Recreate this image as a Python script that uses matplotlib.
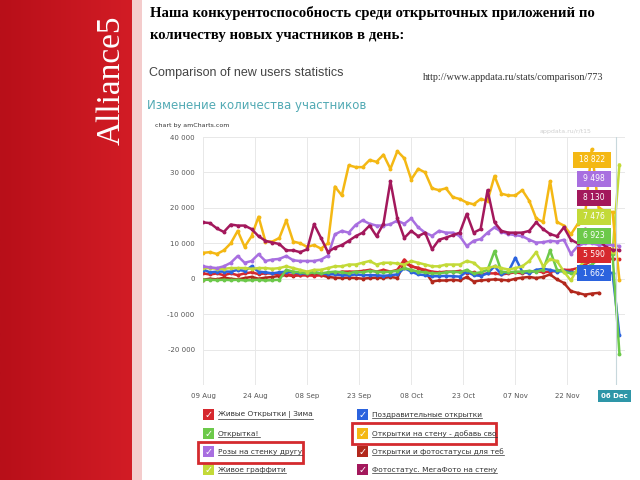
import numpy as np
import matplotlib.pyplot as plt
from matplotlib.colors import LinearSegmentedColormap
from matplotlib.patches import Rectangle
from matplotlib.lines import Line2D

# days since 09 Aug, one reading every second day; values in thousands of users
days = list(range(0, 121, 2))

orange = [7.3, 7.5, 7.0, 8.0, 10.0, 13.5, 9.0, 12.0, 17.5, 10.5, 10.5, 11.5, 16.5, 10.5, 10.0, 9.0,
          9.5, 8.5, 10.0, 26.0, 23.5, 32.0, 31.5, 31.5, 33.5, 33.0, 35.0, 31.0, 36.0, 34.0, 28.0, 31.0,
          30.0, 25.5, 25.0, 25.5, 23.0, 22.5, 21.5, 21.0, 22.5, 22.0, 29.0, 24.0, 23.5, 23.5, 25.0, 22.0,
          17.0, 16.0, 27.5, 16.0, 15.0, 12.5, 15.5, 17.0, 36.5, 20.0, 19.0, 18.822, -0.5]
magenta = [15.9, 15.7, 14.2, 13.2, 15.3, 15.0, 15.0, 14.0, 12.0, 10.7, 10.2, 9.8, 8.0, 8.0, 7.5, 8.3,
           15.4, 11.5, 7.5, 8.8, 9.5, 10.7, 12.0, 13.0, 15.0, 12.0, 15.5, 27.5, 17.0, 11.5, 13.5, 12.0,
           13.0, 8.3, 11.0, 11.6, 12.3, 13.0, 18.3, 13.0, 14.0, 25.0, 15.9, 13.5, 13.0, 13.0, 13.0, 13.5,
           15.9, 14.0, 12.6, 12.0, 14.5, 11.0, 10.0, 14.0, 13.0, 11.0, 9.0, 8.13, 8.1]
purple = [3.5, 3.2, 3.0, 3.5, 4.5, 6.4, 4.5, 5.0, 6.9, 5.0, 5.4, 5.6, 6.4, 5.2, 5.0, 5.0,
          5.0, 5.4, 6.5, 12.5, 13.5, 13.0, 15.2, 16.5, 15.5, 15.0, 15.0, 15.4, 16.4, 15.5, 17.0, 14.5,
          13.0, 12.1, 13.5, 13.0, 13.0, 12.0, 9.2, 10.7, 11.2, 13.0, 14.5, 13.2, 12.6, 12.3, 12.0, 11.0,
          10.2, 10.3, 10.7, 10.5, 11.0, 7.0, 9.2, 10.0, 10.0, 9.5, 9.5, 9.498, 9.2]
lime = [3.0, 3.0, 2.8, 2.8, 3.0, 3.0, 3.0, 2.8, 3.0, 3.0, 2.8, 3.0, 3.5, 3.0, 2.5, 2.0,
        2.5, 2.5, 3.0, 3.5, 3.5, 4.0, 4.0, 4.5, 5.0, 4.0, 4.5, 4.5, 4.3, 4.0, 5.0, 4.5,
        4.0, 3.5, 3.5, 4.0, 4.0, 4.0, 5.0, 4.5, 2.8, 3.0, 3.5, 3.0, 2.6, 3.0, 3.5, 5.0,
        7.5, 3.5, 5.5, 5.0, 2.0, -0.5, 3.0, 5.0, 6.0, 7.0, 7.5, 7.476, 32.2]
green = [-0.3, -0.3, -0.4, -0.3, -0.4, -0.3, -0.5, -0.4, -0.3, -0.5, -0.4, -0.3, 2.5, 2.0, 1.8, 1.5,
         1.8, 1.5, 1.8, 2.0, 1.8, 1.5, 2.0, 1.8, 2.2, 2.0, 1.8, 2.0, 2.2, 3.0, 2.5, 2.0,
         1.8, 1.5, 1.5, 1.8, 2.0, 1.8, 2.5, 1.5, 1.8, 2.5, 7.8, 2.0, 1.8, 2.0, 2.0, 2.2,
         2.0, 2.5, 8.0, 2.5, 2.0, 1.5, 2.0, 3.0, 4.0, 5.5, 6.5, 6.923, -21.2]
blue = [2.6, 1.8, 2.0, 2.0, 2.0, 2.5, 2.2, 3.5, 2.0, 1.8, 1.5, 1.8, 2.0, 1.8, 1.5, 1.5,
        1.8, 1.5, 1.3, 1.2, 1.0, 1.0, 1.2, 1.0, 1.0, 1.0, 0.8, 1.0, 1.2, 3.0, 2.0, 1.2,
        1.0, 0.7, 0.7, 0.8, 0.7, 0.6, 2.0, 1.0, 0.8, 1.5, 3.5, 1.2, 2.0, 5.9, 2.0, 1.5,
        2.5, 2.8, 2.5, 2.0, 2.2, 1.8, 1.5, 2.0, 1.8, 1.7, 1.7, 1.662, -16.0]
red = [1.5, 1.2, 1.5, 1.0, 1.5, 1.0, 1.5, 1.8, 1.3, 1.5, 1.5, 1.2, 1.3, 1.0, 1.0, 1.0,
       0.8, 1.0, 1.2, 1.5, 2.0, 2.0, 2.0, 2.2, 2.5, 2.0, 2.5, 2.0, 2.5, 5.4, 3.5, 3.0,
       2.5, 2.0, 1.8, 2.0, 2.0, 2.2, 1.5, 1.8, 1.2, 1.5, 1.5, 1.2, 1.5, 1.8, 1.5, 2.0,
       2.2, 1.8, 2.0, 2.2, 2.5, 2.5, 3.0, 4.0, 5.0, 5.5, 5.6, 5.59, 5.5]
darkred = [-0.3, 0.0, -0.2, 0.3, 0.0, -0.2, 0.2, 0.5, 0.0, 0.3, 0.5, 0.8, 1.0, 0.8, 1.0, 1.0,
           1.2, 1.0, 0.5, 0.3, 0.2, 0.3, 0.2, 0.0, 0.2, 0.3, 0.2, 0.5, 0.2, 4.5, 3.5, 3.0,
           2.0, -0.8, -0.5, -0.5, -0.3, -0.5, 0.5, -0.8, -0.5, -0.3, -0.2, -0.3, -0.5, 0.0, 0.3, 0.5,
           0.2, 0.5, 1.2, -0.2, -1.2, -3.5, -4.0, -4.5, -4.2, -4.0, np.nan, np.nan, np.nan]

names = ['Живые Открытки | Зима', 'Поздравительные открытки', 'Открытка!',
         'Открытки на стену - добавь сво', 'Розы на стенку другу',
         'Открытки и фотостатусы для теб', 'Живое граффити', 'Фотостатус. МегаФото на стену']
tick_days = [0, 15, 30, 45, 60, 75, 90, 105]
tick_labels = ['09 Aug', '24 Aug', '08 Sep', '23 Sep', '08 Oct', '23 Oct', '07 Nov', '22 Nov']
cursor_day = 119
cursor_label = '06 Dec'
cursor_idx = 59  # day 118, values shown in the balloons

C = {'red': '#d6282e', 'blue': '#2b63de', 'green': '#6cc94a', 'orange': '#f4b814',
     'purple': '#a86fe0', 'darkred': '#b2281c', 'lime': '#c3da38', 'magenta': '#a3185c'}

W, H = 640, 480
def fx(x): return x / W
def fy(y): return 1 - y / H

fig = plt.figure(figsize=(6.4, 4.8), dpi=100)

# red side band
band = fig.add_axes([0, 0, fx(132), 1])
band.imshow(np.linspace(0, 1, 100).reshape(1, -1), aspect='auto', extent=[0, 1, 0, 1],
            cmap=LinearSegmentedColormap.from_list('band', ['#b80f19', '#d21c25']))
band.axis('off')
fig.add_artist(Rectangle((fx(132), 0), fx(10), 1, transform=fig.transFigure, color='#f4cccc', lw=0))
fig.text(fx(111), fy(80), 'Alliance5', rotation=90, color='white', fontsize=24,
         family='Liberation Serif', ha='center', va='center')

fig.text(fx(150), fy(13), 'Наша конкурентоспособность среди открыточных приложений по',
         family='Liberation Serif', weight='bold', fontsize=10.6, va='center')
fig.text(fx(150), fy(35), 'количеству новых участников в день:',
         family='Liberation Serif', weight='bold', fontsize=10.6, va='center')
fig.text(fx(149), fy(73), 'Comparison of new users statistics', family='Liberation Sans',
         fontsize=9, color='#444444', va='center')
fig.text(fx(423), fy(78), 'http://www.appdata.ru/stats/comparison/773', family='Liberation Serif',
         fontsize=7.3, color='#333333', va='center')
fig.text(fx(147), fy(106), 'Изменение количества участников', fontsize=8.5, color='#52aab4', va='center')
fig.text(fx(155), fy(125), 'chart by amCharts.com', fontsize=4.5, color='#333333', va='center')
fig.text(fx(540), fy(131), 'appdata.ru/r/t15', fontsize=4.5, color='#d0d0d0', va='center')

ax = fig.add_axes([fx(203), fy(385), fx(625 - 203), (385 - 137) / H])
series = [('darkred', darkred), ('red', red), ('blue', blue), ('green', green), ('lime', lime),
          ('purple', purple), ('orange', orange), ('magenta', magenta)]
for key, vals in series:
    ax.plot(days, np.array(vals) * 1000, color=C[key], lw=1.8, marker='o', ms=1.8)

ax.set_xlim(0, 121.6)
ax.set_ylim(-30000, 40000)
ax.set_yticks(range(-30000, 40001, 10000))
ax.set_yticklabels([''] + [f'{v:,}'.replace(',', ' ') for v in range(-20000, 40001, 10000)])
ax.set_xticks(tick_days)
ax.set_xticklabels(tick_labels)
ax.tick_params(length=0, labelsize=5, labelcolor='#555555', pad=6)
ax.grid(color='#e8e8e8', lw=0.7)
for s in ax.spines.values():
    s.set_visible(False)
ax.axvline(cursor_day, color='#c8d8dc', lw=0.8)
ax.text(cursor_day - 0.5, -32200, cursor_label, ha='center', va='top', fontsize=5, color='white',
        weight='bold', clip_on=False,
        bbox=dict(boxstyle='square,pad=0.45', fc='#2e96a8', ec='none'))

# balloons at the cursor
tips = [('orange', orange), ('purple', purple), ('magenta', magenta), ('lime', lime),
        ('green', green), ('red', red), ('blue', blue)]
for i, (key, vals) in enumerate(tips):
    yc = 160 + i * 18.9
    x0, w = (573, 38) if i == 0 else (577, 34)
    fig.add_artist(Rectangle((fx(x0), fy(yc + 8)), fx(w), 16 / H, transform=fig.transFigure,
                             color=C[key], lw=0))
    v = round(vals[cursor_idx] * 1000)
    fig.text(fx(x0 + w / 2), fy(yc), f'{v:,}'.replace(',', ' '), color='white', fontsize=5.5,
             ha='center', va='center')

# legend with checkboxes
legend_keys = ['red', 'blue', 'green', 'orange', 'purple', 'darkred', 'lime', 'magenta']
rows = [415, 434, 452, 470]
label_texts = []
for i, (key, name) in enumerate(zip(legend_keys, names)):
    row, col = i // 2, i % 2
    bx = 203 if col == 0 else 357
    y = rows[row]
    fig.add_artist(Rectangle((fx(bx), fy(y + 5)), fx(11), 11 / H, transform=fig.transFigure,
                             color=C[key], lw=0))
    fig.text(fx(bx + 5.5), fy(y), '✓', color='white', fontsize=7, weight='bold',
             ha='center', va='center')
    t = fig.text(fx(bx + 15), fy(y), name, fontsize=5.3, color='#333333', va='center')
    label_texts.append(t)

fig.canvas.draw()
for t in label_texts:
    b = t.get_window_extent().transformed(fig.transFigure.inverted())
    fig.add_artist(Line2D([b.x0, b.x1], [b.y0, b.y0], transform=fig.transFigure,
                          lw=0.5, color='#333333'))

# red frames around the highlighted apps
for x0, y0, x1, y1 in [(198, 442, 303, 463), (352, 423, 496, 444)]:
    fig.add_artist(Rectangle((fx(x0), fy(y1)), fx(x1 - x0), (y1 - y0) / H, transform=fig.transFigure,
                             fill=False, ec='#d42a2e', lw=2))

fig.savefig('out.png', dpi=100)
